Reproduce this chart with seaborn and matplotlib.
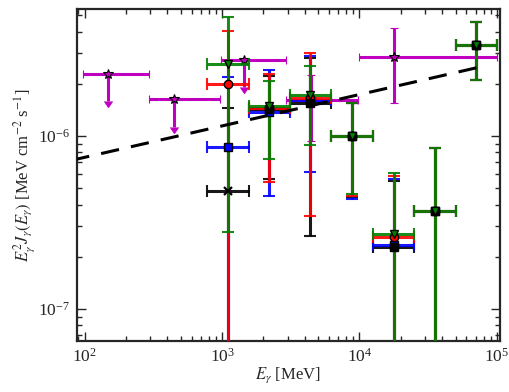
import numpy as np
import pandas as pd
import seaborn as sns
import matplotlib as mpl
mpl.use('Agg')
import matplotlib.pyplot as plt

# ---------------------------------------------------------
# energy bins [MeV]
e_lo = [780, 1560, 3120, 6250, 12500, 25000, 50000]
e_hi = [1560, 3120, 6250, 12500, 25000, 50000, 100000]
e_c  = [1100, 2200, 4400, 8850, 17700, 35300, 70700]

# 1e-9 means the lower error goes below the plot
black_v  = [4.81e-7, 1.42e-6, 1.55e-6, 1.0e-6, 2.28e-7, 3.68e-7, 3.36e-6]
black_lo = [1e-9, 5.64e-7, 2.64e-7, 4.4e-7, 1e-9, 1e-9, 2.11e-6]
black_hi = [1.45e-6, 2.2e-6, 2.82e-6, 1.55e-6, 5.5e-7, 8.53e-7, 4.56e-6]
black_mk = ['x', 's', 's', 's', 's', 's', 's']

blue_v  = [8.63e-7, 1.38e-6, 1.61e-6, 1.0e-6, 2.34e-7, 3.68e-7, 3.36e-6]
blue_lo = [1e-9, 4.5e-7, 6.19e-7, 4.3e-7, 1e-9, 1e-9, 2.11e-6]
blue_hi = [2.19e-6, 2.41e-6, 2.9e-6, 1.55e-6, 5.65e-7, 8.53e-7, 4.56e-6]

red_v  = [2.0e-6, 1.45e-6, 1.66e-6, 1.0e-6, 2.6e-7, 3.68e-7, 3.36e-6]
red_lo = [1e-9, 5.4e-7, 3.45e-7, 4.5e-7, 1e-9, 1e-9, 2.11e-6]
red_hi = [4.04e-6, 2.28e-6, 3.02e-6, 1.55e-6, 5.87e-7, 8.53e-7, 4.56e-6]

green_v  = [2.61e-6, 1.48e-6, 1.73e-6, 1.0e-6, 2.72e-7, 3.68e-7, 3.36e-6]
green_lo = [2.79e-7, 7.36e-7, 8.87e-7, 4.6e-7, 1e-9, 1e-9, 2.11e-6]
green_hi = [4.88e-6, 2.08e-6, 2.54e-6, 1.55e-6, 6.1e-7, 8.53e-7, 4.56e-6]

# magenta points: first three are upper limits
mag_e    = [147, 447, 1450, 4470, 17700]
mag_elo  = [97, 293, 983, 2930, 10000]
mag_ehi  = [293, 968, 2930, 9700, 100000]
mag_v    = [2.28e-6, 1.64e-6, 2.75e-6, 1.61e-6, 2.86e-6]
mag_lo   = [1.58e-6, 1.13e-6, 1.9e-6, 9.3e-7, 1.55e-6]
mag_hi   = [2.28e-6, 1.64e-6, 2.75e-6, 2.25e-6, 4.21e-6]
mag_ul   = [True, True, True, False, False]

# dashed model line
line_e = [80, 83000]
line_v = [7.2e-7, 2.54e-6]

# ---------------------------------------------------------
sns.set_style('ticks')
plt.rcParams['font.family'] = ['Liberation Serif', 'DejaVu Serif']
plt.rcParams['mathtext.fontset'] = 'stix'
plt.rc('axes', labelsize=12, linewidth=1.6)
plt.rc('xtick', labelsize=12.5, direction='in', top=True)
plt.rc('ytick', labelsize=12.5, direction='in', right=True)
plt.rc('xtick.major', size=6.5, width=1.0)
plt.rc('ytick.major', size=6.5, width=1.0)
plt.rc('xtick.minor', size=3.5, width=1.0, visible=True)
plt.rc('ytick.minor', size=3.5, width=1.0, visible=True)

fig = plt.figure(figsize=(5.1, 3.92), dpi=100)
ax = fig.add_axes([0.151, 0.130, 0.829, 0.847])
ax.set_xscale('log')
ax.set_yscale('log')

def xerr(c, lo, hi):
    c = np.array(c); return [c - np.array(lo), np.array(hi) - c]

# magenta
mx = xerr(mag_e, mag_elo, mag_ehi)
mv = np.array(mag_v)
ax.errorbar(mag_e, mag_v, xerr=mx, yerr=[mv - np.array(mag_lo), np.array(mag_hi) - mv],
            uplims=mag_ul, fmt='*', color='#c000c0', mfc='#c000c0', mec='k', mew=0.8,
            ms=7, elinewidth=2.2, capsize=3.0, capthick=1.5, zorder=2)

series = {'k': ('#000000', black_mk, black_v, black_lo, black_hi),
          'b': ('#0000ff', 's', blue_v, blue_lo, blue_hi),
          'r': ('#ff0000', 'o', red_v, red_lo, red_hi),
          'g': ('#008000', 'v', green_v, green_lo, green_hi)}
ex = xerr(e_c, e_lo, e_hi)
# error bars first (black under the rest), then markers
for key in ['k', 'b', 'r', 'g']:
    col, mk, v, lo, hi = series[key]
    v = np.array(v)
    ax.errorbar(e_c, v, xerr=ex, yerr=[v - np.array(lo), np.array(hi) - v],
                fmt='none', ecolor=col, elinewidth=2.2, capsize=4.5, capthick=1.5,
                alpha=0.9, zorder=3)
for key in ['b', 'r', 'k', 'g']:
    col, mk, v, lo, hi = series[key]
    mks = mk if isinstance(mk, list) else [mk] * len(v)
    for xi, yi, m in zip(e_c, v, mks):
        ax.plot(xi, yi, marker=m, color=col, mec='k', mew=1.0 if m != 'x' else 1.6,
                ms=6, ls='none', zorder=4)

df_line = pd.DataFrame({'E': line_e, 'F': line_v})
sns.lineplot(data=df_line, x='E', y='F', ax=ax, color='k', lw=2.2, zorder=5)
ax.lines[-1].set_dashes([6, 4])

ax.set_xlim(88, 1.05e5)
ax.set_ylim(6.5e-8, 5.4e-6)
ax.set_xlabel(r'$E_\gamma$ [MeV]', labelpad=0)
ax.set_ylabel(r'$E_\gamma^2 J_\gamma(E_\gamma)$ [MeV cm$^{-2}$ s$^{-1}$]', labelpad=1)
ax.tick_params(which='major', pad=5)

plt.savefig('out.png', dpi=100)
